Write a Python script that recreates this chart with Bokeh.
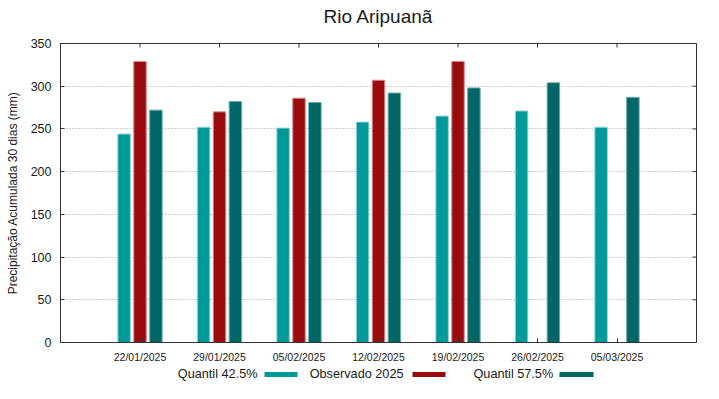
import math
import numpy as np
from bokeh.plotting import figure
from bokeh.layouts import column
from bokeh.models import Range1d, FixedTicker, ColumnDataSource
from bokeh.core.properties import value
from bokeh.embed import file_html
from bokeh.resources import INLINE

# ---- data ----
title_text = "Rio Aripuanã"
dates = ["22/01/2025", "29/01/2025", "05/02/2025", "12/02/2025",
         "19/02/2025", "26/02/2025", "05/03/2025"]
quantil_425 = [244, 252, 251, 258, 265, 271, 252]
observado_2025 = [329, 270, 286, 307, 329, float("nan"), float("nan")]
quantil_575 = [272, 282, 281, 292, 298, 304, 287]
y_ticks = [0, 50, 100, 150, 200, 250, 300, 350]
series_names = ["Quantil 42.5%", "Observado 2025", "Quantil 57.5%"]

# ---- styles ----
FONT = "Liberation Sans"
C_Q425 = "#009999"
C_OBS = "#990c0e"
C_Q575 = "#006666"
TXT = "#1a1a1a"
AX = "#333333"

X_MIN, X_MAX = -1, 7
Y_MIN, Y_MAX = 0, 350
BORDER_L, BORDER_R = 60, 7
W = 703
TITLE_H, MAIN_H, LEG_H = 35, 330, 18


def strip(height):
    f = figure(width=W, height=height, output_backend="svg", toolbar_location=None,
               title=None,
               x_range=Range1d(BORDER_L, W - BORDER_R), y_range=Range1d(height, 0),
               x_axis_location=None, y_axis_location=None,
               min_border_left=BORDER_L, min_border_right=BORDER_R,
               min_border_top=0, min_border_bottom=0)
    f.outline_line_color = None
    f.xgrid.visible = False
    f.ygrid.visible = False
    f.background_fill_color = "white"
    f.border_fill_color = "white"
    return f


# ---- title strip ----
ttl = strip(TITLE_H)
ttl.text(x=[(BORDER_L + W - BORDER_R) / 2], y=[15.7], text=[title_text],
         text_align="center", text_baseline="alphabetic",
         text_font=value(FONT), text_font_size="19px", text_color=TXT)

# ---- main chart ----
idx = np.arange(len(dates))
src = ColumnDataSource(dict(
    x1=idx - 0.2, x2=idx, x3=idx + 0.2,
    q425=quantil_425, obs=observado_2025, q575=quantil_575,
))

p = figure(width=W, height=MAIN_H, output_backend="svg", toolbar_location=None,
           title=None,
           x_range=Range1d(X_MIN, X_MAX), y_range=Range1d(Y_MIN, Y_MAX),
           min_border_left=BORDER_L, min_border_right=BORDER_R,
           min_border_top=8, min_border_bottom=21)
p.background_fill_color = "white"
p.border_fill_color = "white"
p.outline_line_color = AX
p.outline_line_width = 1

bw = 0.157
p.vbar(x="x1", top="q425", bottom=0, width=bw, source=src,
       fill_color=C_Q425, line_color="#8fd6d6", line_width=1)
p.vbar(x="x2", top="obs", bottom=0, width=bw, source=src,
       fill_color=C_OBS, line_color="#d98a8a", line_width=1)
p.vbar(x="x3", top="q575", bottom=0, width=bw, source=src,
       fill_color=C_Q575, line_color="#6fa8a8", line_width=1)

# grid
p.xgrid.visible = False
p.ygrid.ticker = FixedTicker(ticks=y_ticks)
p.ygrid.grid_line_color = "#a0a0a0"
p.ygrid.grid_line_dash = "1 2"
p.ygrid.grid_line_width = 1


def style_axis(ax):
    ax.axis_line_color = AX
    ax.major_tick_line_color = AX
    ax.major_tick_in = 4
    ax.major_tick_out = 0
    ax.minor_tick_line_color = None
    ax.major_label_text_font = FONT
    ax.major_label_text_color = TXT


xa = p.xaxis[0]
xa.ticker = FixedTicker(ticks=list(idx))
xa.major_label_overrides = {int(i): d for i, d in zip(idx, dates)}
style_axis(xa)
xa.major_label_text_font_size = "10.5px"
xa.major_label_standoff = 8

ya = p.yaxis[0]
ya.ticker = FixedTicker(ticks=y_ticks)
style_axis(ya)
ya.major_label_text_font_size = "12.5px"
ya.major_label_standoff = 9
ya.axis_label = "Precipitação Acumulada 30 dias (mm)"
ya.axis_label_text_font = FONT
ya.axis_label_text_font_size = "12px"
ya.axis_label_text_font_style = "normal"
ya.axis_label_text_color = TXT
ya.axis_label_standoff = 8

# mirrored inward ticks on the top and right edges (clipped to the frame)
p.scatter(x=idx, y=[Y_MAX] * len(idx), marker="dash", size=8,
          angle=math.pi / 2, line_color=AX, line_width=1)
p.scatter(x=[X_MAX] * len(y_ticks), y=y_ticks, marker="dash", size=8,
          line_color=AX, line_width=1)

# ---- legend strip (text followed by its swatch, as in the reference) ----
leg = strip(LEG_H)
leg_text_right = [257, 403, 552.7]
sw_left = [264, 412, 559]
sw_right = [297, 445, 593]
leg.text(x=leg_text_right, y=[8.5] * 3, text=series_names,
         text_align="right", text_baseline="alphabetic",
         text_font=value(FONT), text_font_size="12.7px", text_color=TXT)
leg.quad(left=sw_left, right=sw_right, top=[6.5] * 3, bottom=[11.5] * 3,
         fill_color=[C_Q425, C_OBS, C_Q575], line_color=None)

layout = column(ttl, p, leg, spacing=0)
open("out.html", "w").write(file_html(layout, INLINE))
